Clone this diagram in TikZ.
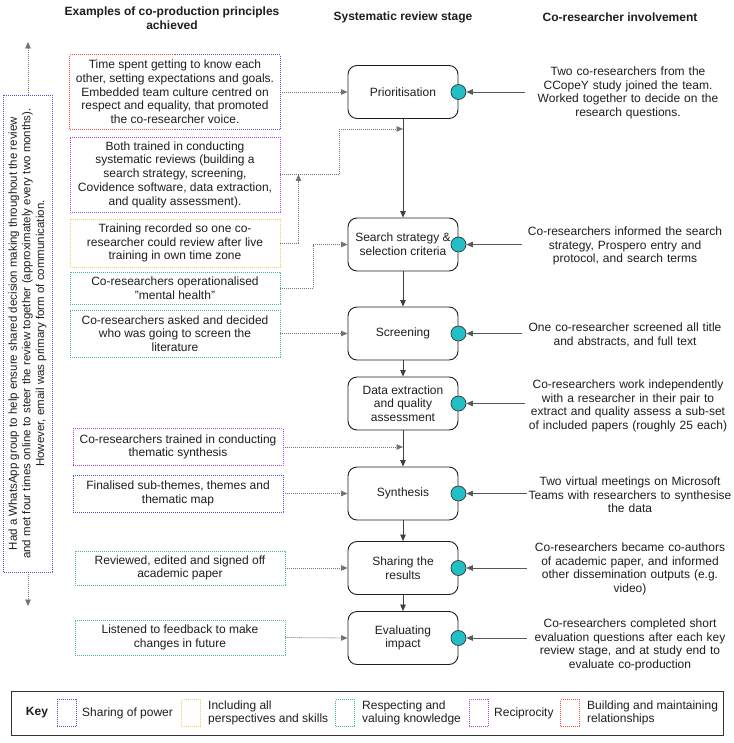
\documentclass[tikz,border=0pt]{standalone}
\usepackage{fontspec}
\setmainfont{Liberation Sans}
\usetikzlibrary{arrows.meta,calc}
\definecolor{kblue}{RGB}{80,80,190}
\definecolor{kyellow}{RGB}{240,210,90}
\definecolor{kteal}{RGB}{70,185,150}
\definecolor{kpurple}{RGB}{170,70,215}
\definecolor{kred}{RGB}{238,80,70}
\definecolor{cteal}{RGB}{34,192,198}
\definecolor{txt}{RGB}{30,30,30}
\begin{document}
\begin{tikzpicture}[x=1pt,y=-1pt,
  every node/.style={font=\fontsize{12}{13.7}\selectfont, text=txt, inner sep=0pt},
  dotborder/.style={line width=0.9pt, dash pattern=on 0.9pt off 1.1pt},
  stage/.style={draw=txt, line width=0.9pt, rounded corners=9pt, minimum width=110pt, minimum height=53pt, align=center},
  lbox/.style={draw=#1, dotborder, minimum width=210pt, align=center, fill=white},
  rtext/.style={text width=218pt, align=center},
  hdr/.style={font=\bfseries\fontsize{12}{14.5}\selectfont, align=center},
  tip/.style={-{Triangle[length=6.5pt,width=5.5pt]}},
  conn/.style={tip, draw=black!55, line width=0.8pt, dash pattern=on 0.9pt off 1.1pt},
  flow/.style={tip, draw=black!75, line width=0.8pt},
  rarrow/.style={tip, draw=black!65, line width=0.8pt},
  dot/.style={circle, draw=black!80, line width=0.7pt, fill=cteal, minimum size=15pt},
  swatch/.style={draw=#1, dotborder, minimum width=19pt, minimum height=27pt}
]
\useasboundingbox (0,0) rectangle (733,743);

% headers
\node[hdr] (h1) at (172,18) {Examples of co-production principles\\achieved};
\node[hdr] (h2) at (403,17) {Systematic review stage};
\node[hdr] (h3) at (620,17) {Co-researcher involvement};

% stages
\node[stage] (prio) at (403,92) {Prioritisation};
\node[stage] (search) at (403,244.5) {Search strategy \&\\selection criteria};
\node[stage] (screen) at (403,333.5) {Screening};
\node[stage] (data) at (403,403.5) {Data extraction\\and quality\\assessment};
\node[stage] (synth) at (403,493.5) {Synthesis};
\node[stage] (share) at (403,568) {Sharing the\\results};
\node[stage] (eval) at (403,638) {Evaluating\\impact};

\draw[flow] (prio) -- (search);
\draw[flow] (search) -- (screen);
\draw[flow] (screen) -- (data);
\draw[flow] (data) -- (synth);
\draw[flow] (synth) -- (share);
\draw[flow] (share) -- (eval);

% circles
\foreach \s/\c in {prio/c1,search/c2,screen/c3,data/c4,synth/c5,share/c6,eval/c7}
  \node[dot] (\c) at (\s.east) {};

% right texts
\node[rtext] (r1) at (628,93) {Two co-researchers from the\\CCopeY study joined the team.\\Worked together to decide on the\\research questions.};
\node[rtext] (r2) at (625,246) {Co-researchers informed the search\\strategy, Prospero entry and\\protocol, and search terms};
\node[rtext] (r3) at (625,335) {One co-researcher screened all title\\and abstracts, and full text};
\node[rtext] (r4) at (628,406) {Co-researchers work independently\\with a researcher in their pair to\\extract and quality assess a sub-set\\of included papers (roughly 25 each)};
\node[rtext] (r5) at (630,495) {Two virtual meetings on Microsoft\\Teams with researchers to synthesise\\the data};
\node[rtext] (r6) at (630,569) {Co-researchers became co-authors\\of academic paper, and informed\\other dissemination outputs (e.g.\\video)};
\node[rtext] (r7) at (630,645) {Co-researchers completed short\\evaluation questions after each key\\review stage, and at study end to\\evaluate co-production};

\foreach \r/\c in {r1/c1,r2/c2,r3/c3,r4/c4,r5/c5,r6/c6,r7/c7}
  \draw[rarrow] ($(\c.east -| \r.west)+(6,0)$) -- (\c.east);

% left boxes
\node[minimum width=210pt, minimum height=74pt, align=center] (b1) at (175,92) {Time spent getting to know each\\other, setting expectations and goals.\\Embedded team culture centred on\\respect and equality, that promoted\\the co-researcher voice.};
\draw[kred, dotborder] (b1.north) -- (b1.north west) -- (b1.south west) -- (b1.south);
\draw[kblue, dotborder] (b1.north) -- (b1.north east) -- (b1.south east) -- (b1.south);
\node[lbox=kpurple, minimum height=75pt] (b2) at (175,174.5) {Both trained in conducting\\systematic reviews (building a\\search strategy, screening,\\Covidence software, data extraction,\\and quality assessment).};
\node[lbox=kyellow, minimum height=48pt] (b3) at (175,243) {Training recorded so one co-\\researcher could review after live\\training in own time zone};
\node[lbox=kteal, minimum height=32pt] (b4) at (175,288) {Co-researchers operationalised\\"mental health"};
\node[lbox=kteal, minimum height=47pt] (b5) at (175,333.5) {Co-researchers asked and decided\\who was going to screen the\\literature};
\node[lbox=kpurple, minimum height=37pt] (b6) at (178,447) {Co-researchers trained in conducting\\thematic synthesis};
\node[lbox=kblue, minimum height=37pt] (b7) at (178,493.5) {Finalised sub-themes, themes and\\thematic map};
\node[lbox=kteal, minimum height=34pt] (b8) at (180,568) {Reviewed, edited and signed off\\academic paper};
\node[lbox=kteal, minimum height=35pt] (b9) at (180,637.5) {Listened to feedback to make\\changes in future};

% left connectors
\coordinate (j1) at ($(prio.south)+(0,10)$);
\coordinate (j2) at ($(b2.east)+(18,0)$);
\draw[conn] (b1.east) -- (prio.west);
\draw[conn] (b2.east) -- ++(59,0) |- (j1);
\draw[conn] (b3.east) -| (j2);
\draw[conn] (b4.east) -- ++(33,0) |- (search.west);
\draw[conn] (b5.east) -- (screen.west);
\draw[conn] (b6.east) -- (b6.east -| synth.north);
\draw[conn] (b7.east) -- (synth.west);
\draw[conn] (b8.east) -- (share.west);
\draw[conn] (b9.east) -- (eval.west);

% vertical communication arrow and box
\coordinate (vt) at (28,42);
\coordinate (vb) at (28,606);
\draw[black!55, line width=0.8pt, dash pattern=on 0.9pt off 1.1pt, {Triangle[length=6.5pt,width=5.5pt]}-{Triangle[length=6.5pt,width=5.5pt]}] (vt) -- (vb);
\node[draw=kblue, dotborder, fill=white, rotate=90, minimum width=477pt, minimum height=49pt, align=center, font=\fontsize{11.5}{13.6}\selectfont] (vbox) at (27.5,333.5) {Had a WhatsApp group to help ensure shared decision making throughout the review\\and met four times online to steer the review together (approximately every two months).\\However, email was primary form of communication.};

% key
\node[draw=black!80, line width=0.9pt, minimum width=712pt, minimum height=44pt] (key) at (367,713.5) {};
\node[font=\bfseries\fontsize{12}{14}\selectfont] (kk) at (37,713) {Key};
\node[swatch=kblue] (s1) at (66.5,713) {};
\node[anchor=west] (l1) at (82,713) {Sharing of power};
\node[swatch=kyellow] (s2) at (191,713) {};
\node[anchor=west, align=left] (l2) at (208,713) {Including all\\perspectives and skills};
\node[swatch=kteal] (s3) at (345,713) {};
\node[anchor=west, align=left] (l3) at (362,713) {Respecting and\\valuing knowledge};
\node[swatch=kpurple] (s4) at (478.5,713) {};
\node[anchor=west] (l4) at (494,713) {Reciprocity};
\node[swatch=kred] (s5) at (570,713) {};
\node[anchor=west, align=left] (l5) at (587,713) {Building and maintaining\\relationships};
\end{tikzpicture}
\end{document}
